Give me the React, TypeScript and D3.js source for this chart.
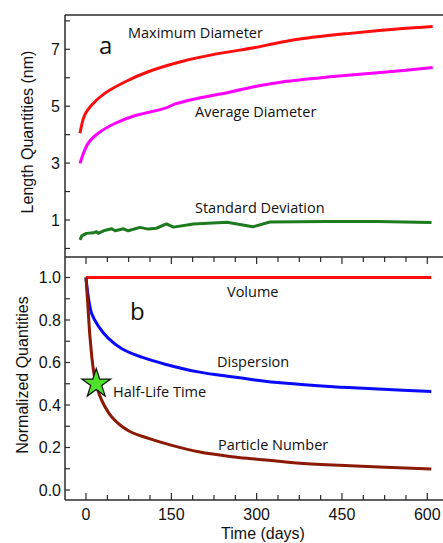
import React from "react";
import * as d3 from "d3";

// panel a: length quantities (nm) vs time (days)
const maxDays = [0, 8, 20, 42, 77, 116, 173, 230, 298, 323, 374, 459, 544, 600];
const maxDiameter = [4.05, 4.69, 5.04, 5.45, 5.86, 6.21, 6.57, 6.83, 7.06, 7.17, 7.36, 7.56, 7.72, 7.8];

const avgDays = [0, 14, 31, 60, 88, 145, 162, 201, 258, 298, 346, 431, 516, 600];
const avgDiameter = [2.99, 3.7, 4.05, 4.4, 4.63, 4.93, 5.08, 5.28, 5.51, 5.69, 5.86, 6.04, 6.19, 6.36];

const sdDays = [0, 3, 11, 23, 28, 31, 40, 54, 60, 74, 82, 102, 116, 130, 147, 159, 193, 250, 294, 323, 420, 505, 598];
const stdDeviation = [0.3, 0.44, 0.53, 0.55, 0.59, 0.53, 0.62, 0.69, 0.62, 0.69, 0.62, 0.74, 0.68, 0.71, 0.86, 0.75, 0.86, 0.92, 0.76, 0.93, 0.95, 0.95, 0.91];

// panel b: normalized quantities
const volDays = [0, 607];
const volume = [1, 1];

const dispDays = [0, 4, 10, 22, 39, 63, 98, 139, 197, 256, 297, 347, 435, 523, 607];
const dispersion = [1.0, 0.91, 0.83, 0.77, 0.715, 0.665, 0.625, 0.592, 0.556, 0.533, 0.518, 0.503, 0.486, 0.474, 0.463];

const partDays = [0, 3, 7, 13, 19, 28, 45, 74, 110, 151, 198, 256, 297, 376, 464, 607];
const particleNumber = [1.0, 0.88, 0.72, 0.565, 0.486, 0.42, 0.345, 0.28, 0.243, 0.21, 0.18, 0.157, 0.146, 0.126, 0.114, 0.099];

const halfLife = { day: 18, value: 0.5 };

const xTicks = [0, 150, 300, 450, 600];
const yTicksA = [1, 3, 5, 7];
const yTicksB = [0, 0.2, 0.4, 0.6, 0.8, 1.0];

const W = 443, H = 543;
const left = 65, topA = 15, bottomA = 257, bottomB = 500;
const axisColor = "#2b2b2b";
const tickFont = "'Liberation Sans', Arial, sans-serif";
const noteFont = "'Open Sans', Lato, sans-serif";

const zip = (xs: number[], ys: number[]) => xs.map((x, i) => [x, ys[i]] as [number, number]);

export default function App() {
  const xA = d3.scaleLinear().domain([0, 600]).range([80, 432.7]);
  const xB = d3.scaleLinear().domain([0, 600]).range([86, 427.3]);
  const yA = d3.scaleLinear().domain([1, 7]).range([220, 49.3]);
  const yB = d3.scaleLinear().domain([0, 1]).range([490, 277.5]);

  const lineA = d3.line<[number, number]>().x(d => xA(d[0])).y(d => yA(d[1])).curve(d3.curveCatmullRom.alpha(0.5));
  const lineAJag = d3.line<[number, number]>().x(d => xA(d[0])).y(d => yA(d[1]));
  const lineB = d3.line<[number, number]>().x(d => xB(d[0])).y(d => yB(d[1])).curve(d3.curveCatmullRom.alpha(0.5));

  const minorX = d3.range(0, 601, 37.5);
  const minorA = d3.range(0, 9, 1);
  const minorB = d3.range(0, 11).map(i => i / 10);

  const star = d3.symbol().type(d3.symbolStar).size(260)();

  return (
    <svg width={W} height={H} style={{ position: "absolute", left: 0, top: 0, background: "#fff" }}>
      {/* frame */}
      <g stroke={axisColor} strokeWidth={1.5} fill="none">
        <line x1={left} x2={W} y1={topA} y2={topA} />
        <line x1={left} x2={W} y1={bottomA} y2={bottomA} />
        <line x1={left} x2={W} y1={bottomB} y2={bottomB} />
        <line x1={left} x2={left} y1={topA} y2={bottomB} />
      </g>

      {/* ticks */}
      <g stroke={axisColor} strokeWidth={1.2}>
        {minorA.map(v => <line key={"ta" + v} x1={left} x2={left + 5} y1={yA(v)} y2={yA(v)} />)}
        {minorB.map(v => <line key={"tb" + v} x1={left} x2={left + 5} y1={yB(v)} y2={yB(v)} />)}
        {minorX.map(v => {
          const major = v % 150 === 0;
          const len = major ? 7 : 5;
          return (
            <g key={"tx" + v}>
              <line x1={xB(v)} x2={xB(v)} y1={bottomA} y2={bottomA + len} />
              <line x1={xB(v)} x2={xB(v)} y1={bottomB} y2={bottomB - len} />
            </g>
          );
        })}
      </g>

      <g fontFamily={tickFont} fontSize={16} fill="#111">
        {yTicksA.map(v => (
          <text key={"la" + v} x={60} y={yA(v)} dy="0.36em" textAnchor="end">{v}</text>
        ))}
        {yTicksB.map(v => (
          <text key={"lb" + v} x={61} y={yB(v)} dy="0.36em" textAnchor="end">{v.toFixed(1)}</text>
        ))}
        {xTicks.map(v => (
          <text key={"lx" + v} x={xB(v)} y={520} textAnchor="middle">{v}</text>
        ))}
        <text transform="translate(33,132) rotate(-90)" textAnchor="middle">Length Quantities (nm)</text>
        <text transform="translate(28,375) rotate(-90)" textAnchor="middle">Normalized Quantities</text>
        <text x={263} y={539} textAnchor="middle">Time (days)</text>
      </g>

      {/* curves panel a */}
      <g fill="none" strokeWidth={3} strokeLinejoin="round">
        <path d={lineA(zip(maxDays, maxDiameter)) || ""} stroke="#ff0d0d" />
        <path d={lineA(zip(avgDays, avgDiameter)) || ""} stroke="#ff00ff" />
        <path d={lineAJag(zip(sdDays, stdDeviation)) || ""} stroke="#1e7a1e" />
      </g>

      {/* curves panel b */}
      <g fill="none" strokeWidth={3} strokeLinejoin="round">
        <path d={lineB(zip(volDays, volume)) || ""} stroke="#ff0d0d" />
        <path d={lineB(zip(dispDays, dispersion)) || ""} stroke="#0a0aff" />
        <path d={lineB(zip(partDays, particleNumber)) || ""} stroke="#8b1a05" />
      </g>
      <path d={star || ""} transform={`translate(${xB(halfLife.day)},${yB(halfLife.value)})`} fill="#4fe02a" stroke="#111" strokeWidth={1.2} />

      <g fontFamily={noteFont} fontSize={14.5} fill="#111">
        <text x={128} y={38}>Maximum Diameter</text>
        <text x={195} y={117}>Average Diameter</text>
        <text x={195} y={213}>Standard Deviation</text>
        <text x={227} y={297}>Volume</text>
        <text x={217} y={367}>Dispersion</text>
        <text x={113} y={397}>Half-Life Time</text>
        <text x={218} y={450}>Particle Number</text>
        <text x={99} y={54} fontSize={24}>a</text>
        <text x={130} y={320} fontSize={24}>b</text>
      </g>
    </svg>
  );
}
